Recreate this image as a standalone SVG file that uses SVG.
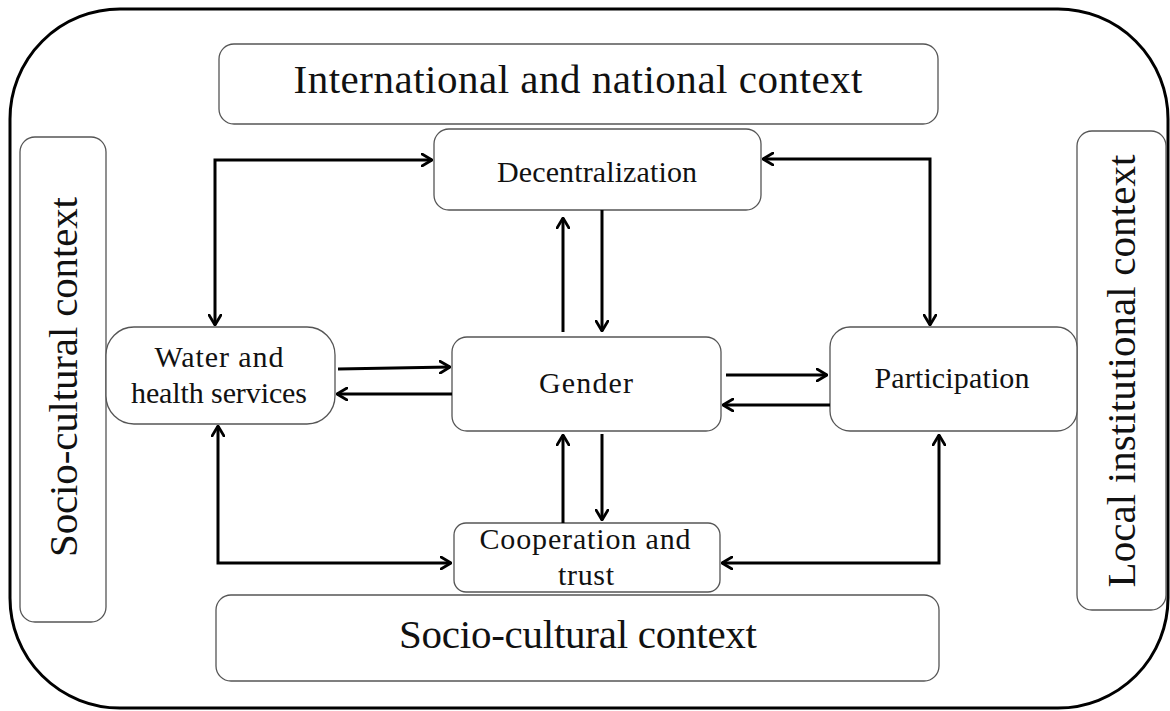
<svg xmlns="http://www.w3.org/2000/svg" width="1170" height="711" viewBox="0 0 1170 711">
<style>
.box{fill:#fff;stroke:#555;stroke-width:1.3}
.lbl{font-family:"Liberation Serif","Times New Roman",serif;fill:#111;text-anchor:middle}
.ctx{font-size:41px}
.nd{font-size:30px}
.con{fill:none;stroke:#000;stroke-width:3;marker-end:url(#ah)}
.bi{marker-start:url(#ah)}
</style>
<defs>
<marker id="ah" viewBox="0 0 12 14" refX="11" refY="7" markerWidth="12" markerHeight="14" markerUnits="userSpaceOnUse" orient="auto-start-reverse">
<path d="M1,1 L11,7 L1,13" fill="none" stroke="#000" stroke-width="2.8" stroke-linecap="round" stroke-linejoin="round"/>
</marker>
</defs>
<rect width="1170" height="711" fill="#fff"/>
<rect id="outer" x="10" y="9" width="1158" height="699" rx="110" ry="110" fill="none" stroke="#000" stroke-width="3"/>

<g id="intl">
<rect class="box" x="219" y="44" width="719" height="80" rx="15"/>
<text class="lbl ctx" x="578" y="93" textLength="569" font-size="42">International and national context</text>
</g>
<g id="socio-left">
<rect class="box" x="20" y="137" width="86" height="485" rx="15"/>
<text class="lbl ctx" transform="translate(77,377) rotate(-90)" textLength="360">Socio-cultural context</text>
</g>
<g id="local">
<rect class="box" x="1077" y="131" width="89" height="479" rx="15"/>
<text class="lbl ctx" transform="translate(1135,371) rotate(-90)" textLength="433">Local institutional context</text>
</g>
<g id="socio-bottom">
<rect class="box" x="216" y="595" width="723" height="86" rx="15"/>
<text class="lbl ctx" x="578" y="648" textLength="358">Socio-cultural context</text>
</g>
<g id="decentralization">
<rect class="box" x="434" y="129" width="327" height="81" rx="15"/>
<text class="lbl nd" x="597" y="182" textLength="200">Decentralization</text>
</g>
<g id="water">
<rect class="box" x="106" y="327" width="229" height="97" rx="28"/>
<text class="lbl nd" x="219" y="367" textLength="129">Water and</text>
<text class="lbl nd" x="219" y="403" textLength="176">health services</text>
</g>
<g id="gender">
<rect class="box" x="452" y="337" width="269" height="94" rx="15"/>
<text class="lbl nd" x="586" y="393" textLength="94">Gender</text>
</g>
<g id="participation">
<rect class="box" x="830" y="327" width="247" height="104" rx="20"/>
<text class="lbl nd" x="952" y="388" textLength="155">Participation</text>
</g>
<g id="cooperation">
<rect class="box" x="454" y="523" width="266" height="69" rx="12"/>
<text class="lbl nd" x="585" y="549" textLength="211">Cooperation and</text>
<text class="lbl nd" x="586" y="585" textLength="56">trust</text>
</g>

<g id="connectors">
<path class="con bi" d="M432,160 H215 V325"/>
<path class="con bi" d="M763,159 H930 V325"/>
<path class="con" d="M563,332 V218"/>
<path class="con" d="M602,210 V331"/>
<path class="con" d="M338,369 L450,367"/>
<path class="con" d="M452,394 H337"/>
<path class="con" d="M726,375 H827"/>
<path class="con" d="M830,405 H723"/>
<path class="con" d="M563,523 V435"/>
<path class="con" d="M602,434 V520"/>
<path class="con bi" d="M218,426 V563 H451"/>
<path class="con bi" d="M939,435 V563 H722"/>
</g>
</svg>
